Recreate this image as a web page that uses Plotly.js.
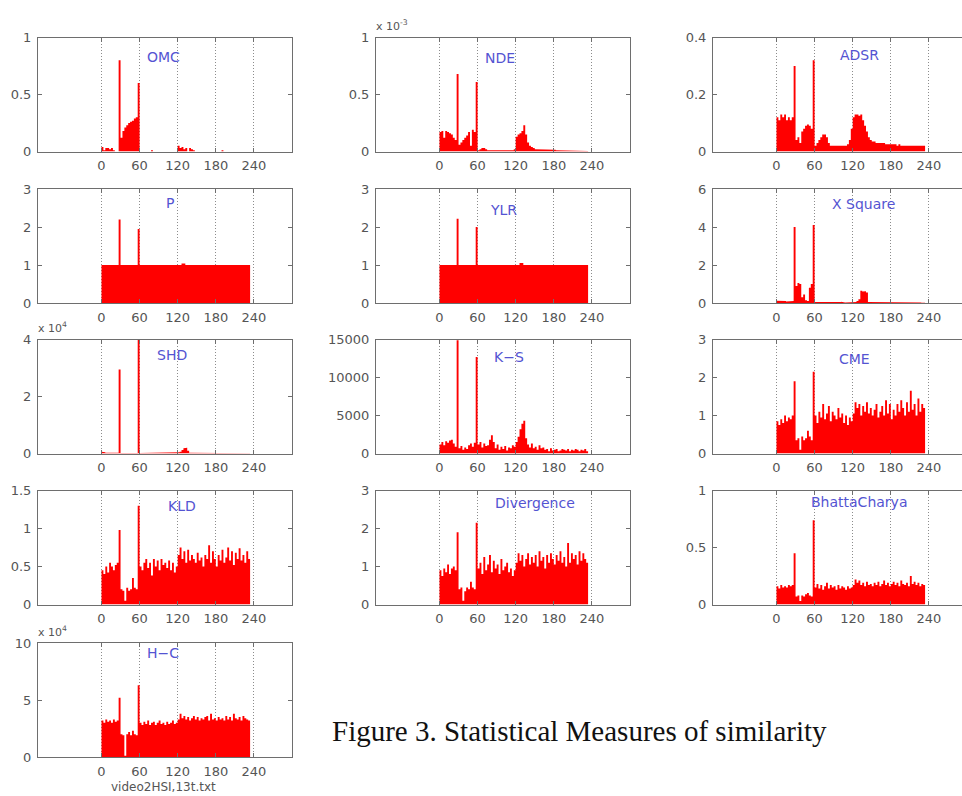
<!DOCTYPE html>
<html>
<head>
<meta charset="utf-8">
<script src="https://cdn.plot.ly/plotly-3.0.1.min.js"></script>
<style>
  html, body { margin: 0; padding: 0; overflow: hidden; background: #ffffff; }
  #chart { width: 970px; height: 796px; }
</style>
</head>
<body>
<div id="chart"></div>
<script>
// Frame index where each 3-frame bin starts (bins cover frames 0..233)
const frames = [0,3,6,9,12,15,18,21,24,27,30,33,36,39,42,45,48,51,54,57,
  60,63,66,69,72,75,78,81,84,87,90,93,96,99,102,105,108,111,114,117,
  120,123,126,129,132,135,138,141,144,147,150,153,156,159,162,165,168,171,174,177,
  180,183,186,189,192,195,198,201,204,207,210,213,216,219,222,225,228,231];
const BIN = 3;

const xTickVals = [0, 60, 120, 180, 240];
const xTickText = ['0', '60', '120', '180', '240'];

// ---- measure values per bin ----
const omc = [0.04,0.01,0.03,0.03,0.02,0.03,0.01,0,0,0.8,
  0.12,0.18,0.21,0.23,0.25,0.26,0.27,0.29,0.3,0.6,
  0,0,0,0,0,0,0.01,0,0,0,
  0,0,0,0,0,0,0,0,0,0,
  0.05,0.03,0.04,0.02,0.03,0,0.03,0.02,0.01,0,
  0,0,0,0,0,0,0,0,0,0,
  0,0,0,0.01,0,0,0,0,0,0,
  0,0,0,0,0,0,0,0];

const nde = [0.17,0.18,0.12,0.18,0.17,0.16,0.15,0.12,0.1,0.68,
  0.06,0.08,0.1,0.12,0.14,0.17,0.05,0.19,0.17,0.61,
  0.01,0.02,0.03,0.03,0.02,0.01,0.005,0.005,0.005,0.005,
  0.005,0.005,0.005,0.005,0.005,0.005,0.005,0.005,0.01,0.02,
  0.13,0.15,0.16,0.18,0.23,0.15,0.08,0.05,0.04,0.03,
  0.02,0.02,0.02,0.02,0.02,0.02,0.02,0.02,0.02,0.02,
  0.015,0.01,0.01,0.01,0.01,0.01,0.01,0.01,0.01,0.01,
  0.01,0.01,0.005,0.005,0.005,0.005,0.005,0.005];

const adsr = [0.12,0.11,0.13,0.12,0.13,0.11,0.12,0.11,0.12,0.3,
  0.04,0.05,0.03,0.07,0.08,0.09,0.095,0.09,0.08,0.32,
  0.02,0.03,0.04,0.05,0.06,0.06,0.05,0.03,0.02,0.02,
  0.02,0.02,0.02,0.02,0.02,0.02,0.02,0.025,0.04,0.08,
  0.12,0.13,0.13,0.125,0.13,0.11,0.09,0.07,0.05,0.04,
  0.035,0.035,0.03,0.03,0.03,0.03,0.03,0.025,0.025,0.025,
  0.025,0.025,0.025,0.02,0.025,0.02,0.02,0.02,0.02,0.02,
  0.02,0.02,0.02,0.02,0.02,0.02,0.02,0.02];

const pMeasure = [1,1,1,1,1,1,1,1,1,2.2,
  1,1,1,1,1,1,1,1,1,1.95,
  1,1,1,1,1,1,1,1,1,1,
  1,1,1,1,1,1,1,1,1,1,
  1,1,1.04,1.04,1,1,1,1,1,1,
  1,1,1,1,1,1,1,1,1,1,
  1,1,1,1,1,1,1,1,1,1,
  1,1,1,1,1,1,1,1];

const ylr = [1,1,1,1,1,1,1,1,1,2.22,
  1,1,1,1,1,1,1,1,1,2.0,
  1,1,1,1,1,1,1,1,1,1,
  1,1,1,1,1,1,1,1,1,1,
  1,1,1.05,1.05,1,1,1,1,1,1,
  1,1,1,1,1,1,1,1,1,1,
  1,1,1,1,1,1,1,1,1,1,
  1,1,1,1,1,1,1,1];

const xSquare = [0.12,0.1,0.1,0.12,0.1,0.08,0.1,0.1,0.1,4.0,
  0.9,1.05,1.0,0.3,0.45,0.15,0.1,0.8,1.0,4.1,
  0.05,0.03,0.03,0.02,0.03,0.02,0.03,0.02,0.02,0.03,
  0.02,0.03,0.02,0.05,0.06,0.03,0.02,0.02,0.02,0.03,
  0.02,0.05,0.1,0.2,0.65,0.6,0.62,0.55,0.05,0.03,
  0.03,0.02,0.03,0.02,0.03,0.03,0.02,0.03,0.02,0.03,
  0.03,0.02,0.03,0.02,0.03,0.02,0.03,0.02,0.03,0.02,
  0.03,0.02,0.03,0.02,0.03,0.02,0.01,0.01];

// SHD in units of 10^4
const shd = [0.06,0.04,0.03,0.03,0.03,0.03,0.03,0.03,0.03,2.95,
  0.02,0.02,0.02,0.02,0.02,0.02,0.02,0.02,0.02,4.0,
  0.02,0.02,0.02,0.02,0.02,0.02,0.04,0.02,0.02,0.02,
  0.03,0.02,0.02,0.02,0.02,0.02,0.02,0.02,0.02,0.03,
  0.04,0.06,0.12,0.18,0.2,0.1,0.03,0.02,0.02,0.02,
  0.01,0.01,0.01,0.01,0.01,0.01,0.01,0.01,0.01,0.01,
  0.01,0.01,0.01,0.01,0.01,0.01,0.01,0.01,0.01,0.01,
  0.02,0.01,0.02,0.01,0.01,0.01,0.01,0.01];

const ks = [1200,1500,1100,1600,1400,1700,1800,1300,900,14900,
  700,1000,500,800,600,1100,1300,900,1400,12700,
  1200,1500,800,1300,1000,1100,1800,2400,1500,700,
  1200,500,900,600,1000,400,800,700,1100,900,
  1500,2200,3200,3900,4300,2000,1200,800,1300,700,
  900,500,1100,700,800,500,600,300,700,400,
  500,600,300,400,600,500,400,600,300,500,
  400,600,500,300,500,400,600,300];

const cme = [0.85,0.75,0.9,0.8,1.0,0.85,0.95,0.9,1.0,1.9,
  0.35,0.4,0.1,0.45,0.35,0.4,0.6,0.45,0.35,2.15,
  1.0,0.8,1.1,0.95,1.3,0.9,1.05,1.25,0.85,1.1,
  1.0,0.9,1.2,0.95,1.05,0.8,1.0,0.75,0.95,0.85,
  1.05,1.35,1.2,1.3,1.0,1.25,1.1,1.35,1.05,1.2,
  1.0,1.15,1.3,0.95,1.1,1.25,1.0,1.4,1.05,1.3,
  0.9,1.15,1.0,1.3,1.1,1.4,1.2,1.0,1.35,1.1,
  1.65,1.15,1.3,1.0,1.45,1.1,1.3,1.2];

const kld = [0.45,0.4,0.5,0.42,0.55,0.5,0.45,0.52,0.55,0.98,
  0.2,0.18,0.05,0.22,0.18,0.2,0.35,0.22,0.2,1.3,
  0.5,0.45,0.55,0.6,0.48,0.55,0.38,0.6,0.5,0.58,
  0.45,0.6,0.52,0.55,0.48,0.58,0.45,0.55,0.42,0.5,
  0.65,0.75,0.6,0.7,0.55,0.72,0.58,0.65,0.6,0.55,
  0.68,0.58,0.62,0.5,0.65,0.6,0.78,0.55,0.7,0.6,
  0.5,0.65,0.58,0.72,0.55,0.62,0.75,0.58,0.7,0.52,
  0.68,0.6,0.74,0.58,0.65,0.55,0.7,0.6];

const divergence = [0.9,0.75,0.95,0.85,1.05,0.8,0.95,1.0,0.9,1.9,
  0.4,0.45,0.1,0.35,0.45,0.4,0.6,0.45,0.4,2.15,
  0.95,1.1,0.8,1.25,0.9,1.05,1.3,0.85,1.15,0.95,
  1.05,0.8,1.2,0.9,1.0,1.1,0.85,0.95,0.75,0.9,
  1.1,1.35,1.15,1.3,1.0,1.2,1.35,1.05,1.25,1.1,
  1.3,1.0,1.4,1.15,1.25,0.95,1.3,1.1,1.35,1.2,
  1.05,1.3,1.15,1.4,1.1,1.25,1.0,1.62,1.1,1.35,
  1.2,1.3,1.05,1.4,1.15,1.35,1.2,1.1];

const bhattacharya = [0.16,0.14,0.17,0.15,0.16,0.15,0.17,0.16,0.17,0.45,
  0.07,0.08,0.03,0.08,0.07,0.09,0.1,0.08,0.07,0.74,
  0.15,0.18,0.14,0.17,0.13,0.16,0.19,0.14,0.17,0.15,
  0.16,0.13,0.17,0.14,0.16,0.15,0.13,0.16,0.14,0.15,
  0.17,0.22,0.19,0.21,0.17,0.19,0.16,0.2,0.17,0.18,
  0.16,0.19,0.17,0.2,0.16,0.18,0.21,0.17,0.19,0.16,
  0.18,0.2,0.17,0.19,0.16,0.21,0.18,0.17,0.19,0.16,
  0.25,0.18,0.2,0.17,0.19,0.16,0.18,0.17];

// H-C in units of 10^4
const hc = [3.2,3.0,3.3,3.1,3.2,3.0,3.3,3.1,3.2,5.2,
  2.0,1.9,0.1,2.0,2.2,1.9,2.3,2.0,1.9,6.3,
  3.0,2.8,3.1,2.9,3.2,2.8,3.0,3.1,2.8,3.0,
  3.2,2.9,3.0,2.8,3.1,2.9,3.0,3.2,2.9,3.0,
  3.3,3.8,3.4,3.6,3.3,3.5,3.2,3.4,3.6,3.3,
  3.5,3.2,3.4,3.3,3.5,3.6,3.2,3.8,3.3,3.4,
  3.2,3.5,3.3,3.4,3.2,3.6,3.3,3.5,3.2,3.8,
  3.4,3.3,3.5,3.2,3.6,3.4,3.3,3.2];

// ---- page geometry (pixels) ----
const W = 970, H = 796;
const COL_LEFT = [38, 376, 713];
const COL_WIDTH = 254;
const ROW_TOP = [37.5, 189, 339.5, 490.5, 643];
const ROW_HEIGHT = 114;

const px = x => x / W;
const py = y => 1 - y / H;

const panels = [
  { name: 'OMC', values: omc, row: 0, col: 0, yMax: 1, yTicks: [0, 0.5, 1], yText: ['0', '0.5', '1'], at: [163, 57] },
  { name: 'NDE', values: nde, row: 0, col: 1, yMax: 1, yTicks: [0, 0.5, 1], yText: ['0', '0.5', '1'], at: [500, 58], exp: 'x 10<sup>-3</sup>' },
  { name: 'ADSR', values: adsr, row: 0, col: 2, yMax: 0.4, yTicks: [0, 0.2, 0.4], yText: ['0', '0.2', '0.4'], at: [859, 55] },
  { name: 'P', values: pMeasure, row: 1, col: 0, yMax: 3, yTicks: [0, 1, 2, 3], yText: ['0', '1', '2', '3'], at: [170, 203] },
  { name: 'YLR', values: ylr, row: 1, col: 1, yMax: 3, yTicks: [0, 1, 2, 3], yText: ['0', '1', '2', '3'], at: [503, 210] },
  { name: 'X Square', values: xSquare, row: 1, col: 2, yMax: 6, yTicks: [0, 2, 4, 6], yText: ['0', '2', '4', '6'], at: [863, 204] },
  { name: 'SHD', values: shd, row: 2, col: 0, yMax: 4, yTicks: [0, 2, 4], yText: ['0', '2', '4'], at: [172, 355], exp: 'x 10<sup>4</sup>' },
  { name: 'K\u2212S', values: ks, row: 2, col: 1, yMax: 15000, yTicks: [0, 5000, 10000, 15000], yText: ['0', '5000', '10000', '15000'], at: [509, 357] },
  { name: 'CME', values: cme, row: 2, col: 2, yMax: 3, yTicks: [0, 1, 2, 3], yText: ['0', '1', '2', '3'], at: [854, 359] },
  { name: 'KLD', values: kld, row: 3, col: 0, yMax: 1.5, yTicks: [0, 0.5, 1, 1.5], yText: ['0', '0.5', '1', '1.5'], at: [182, 506] },
  { name: 'Divergence', values: divergence, row: 3, col: 1, yMax: 3, yTicks: [0, 1, 2, 3], yText: ['0', '1', '2', '3'], at: [535, 503] },
  { name: 'BhattaCharya', values: bhattacharya, row: 3, col: 2, yMax: 1, yTicks: [0, 0.5, 1], yText: ['0', '0.5', '1'], at: [859, 502] },
  { name: 'H\u2212C', values: hc, row: 4, col: 0, yMax: 10, yTicks: [0, 5, 10], yText: ['0', '5', '10'], at: [163, 653], exp: 'x 10<sup>4</sup>' }
];

const FONT = 'DejaVu Sans, Verdana, sans-serif';
const tickFont = { family: FONT, size: 13, color: '#555555' };
const frameColor = '#6e6e6e';

// Each bin becomes a flat step from its start frame to start + BIN, so the
// whole histogram is one filled outline (no seams between neighbouring bins).
function stepOutline(values) {
  const xs = [], ys = [];
  values.forEach((v, i) => {
    xs.push(frames[i], frames[i] + BIN);
    ys.push(v, v);
  });
  return { xs, ys };
}

const traces = [];
const layout = {
  width: W, height: H,
  margin: { l: 0, r: 0, t: 0, b: 0 },
  paper_bgcolor: '#ffffff',
  plot_bgcolor: '#ffffff',
  showlegend: false,
  annotations: []
};

panels.forEach((p, i) => {
  const n = i + 1;
  const left = COL_LEFT[p.col], top = ROW_TOP[p.row];
  const step = stepOutline(p.values);
  traces.push({
    type: 'scatter',
    mode: 'lines',
    x: step.xs,
    y: step.ys,
    fill: 'tozeroy',
    fillcolor: '#ff0000',
    line: { color: '#ff0000', width: 0 },
    xaxis: 'x' + n,
    yaxis: 'y' + n,
    hoverinfo: 'skip'
  });
  layout['xaxis' + n] = {
    domain: [px(left), px(left + COL_WIDTH)],
    anchor: 'y' + n,
    range: [-100, 300],
    fixedrange: true,
    tickmode: 'array', tickvals: xTickVals, ticktext: xTickText,
    ticks: 'inside', ticklen: 4, tickcolor: frameColor, tickwidth: 1,
    showline: true, linecolor: frameColor, linewidth: 1, mirror: 'ticks',
    showgrid: true, gridcolor: '#8c8c8c', gridwidth: 1, griddash: '1px,2px',
    zeroline: false,
    tickfont: tickFont,
    ticklabelstandoff: 2
  };
  layout['yaxis' + n] = {
    domain: [py(top + ROW_HEIGHT), py(top)],
    anchor: 'x' + n,
    range: [0, p.yMax],
    fixedrange: true,
    tickmode: 'array', tickvals: p.yTicks, ticktext: p.yText,
    ticks: 'inside', ticklen: 4, tickcolor: frameColor, tickwidth: 1,
    showline: true, linecolor: frameColor, linewidth: 1, mirror: 'ticks',
    showgrid: false, zeroline: false,
    tickfont: tickFont,
    ticklabelstandoff: 3
  };
  layout.annotations.push({
    text: p.name, showarrow: false,
    xref: 'paper', yref: 'paper',
    x: px(p.at[0]), y: py(p.at[1]),
    xanchor: 'center', yanchor: 'middle',
    font: { family: FONT, size: 14, color: '#5454d2' }
  });
  if (p.exp) {
    layout.annotations.push({
      text: p.exp, showarrow: false,
      xref: 'paper', yref: 'paper',
      x: px(left - 2), y: py(top - 12),
      xanchor: 'left', yanchor: 'middle',
      font: { family: FONT, size: 11, color: '#555555' }
    });
  }
});

// axis caption under the bottom panel
layout.annotations.push({
  text: 'video2HSI,13t.txt', showarrow: false,
  xref: 'paper', yref: 'paper',
  x: px(163), y: py(787),
  xanchor: 'center', yanchor: 'middle',
  font: { family: FONT, size: 12, color: '#555555' }
});

// figure caption
layout.annotations.push({
  text: 'Figure 3. Statistical Measures of similarity', showarrow: false,
  xref: 'paper', yref: 'paper',
  x: px(330), y: py(731),
  xanchor: 'left', yanchor: 'middle',
  font: { family: 'Liberation Serif, Times New Roman, serif', size: 29, color: '#111111' }
});

Plotly.newPlot('chart', traces, layout, { staticPlot: true, displayModeBar: false });
</script>
</body>
</html>
